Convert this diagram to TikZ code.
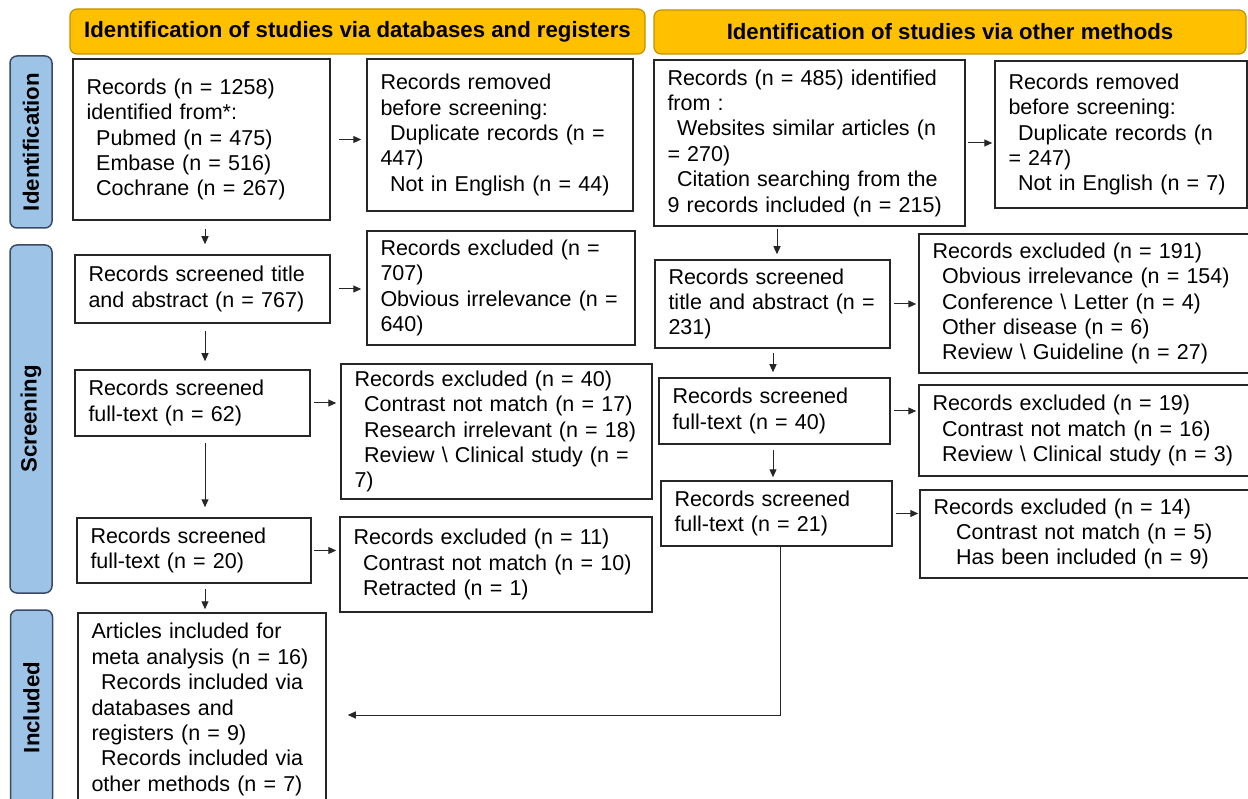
\documentclass[tikz,border=0pt]{standalone}
\usepackage{fontspec}
\setmainfont{Liberation Sans}
\usetikzlibrary{arrows.meta,positioning}

\definecolor{hdrfill}{HTML}{FFC000}
\definecolor{hdrline}{HTML}{C29200}
\definecolor{sidefill}{HTML}{9DC3E6}
\definecolor{sideline}{HTML}{3A4A66}

\newcommand\ind{\hspace*{0.45em}}
\newcommand\indd{\hspace*{1.05em}}
\newcommand\boxfont{\fontsize{21.5}{25.4}\selectfont}
\newcommand\hdrfont{\fontsize{22.2}{26}\selectfont\bfseries}

\tikzset{
  box/.style={draw=black!85, line width=1.5pt, align=left, inner xsep=13.5pt,
    inner ysep=3pt, font=\boxfont},
  pbox/.style 2 args={box, text width=#1pt, minimum height=#2pt},
  hdr/.style={draw=hdrline, fill=hdrfill, rounded corners=7pt, line width=1.2pt,
    font=\hdrfont},
  side/.style={draw=sideline, fill=sidefill, rounded corners=7pt, line width=1.5pt,
    rotate=90, minimum height=42pt, font=\hdrfont},
  arr/.style={-{Triangle[length=8pt,width=7pt]}, line width=1pt, draw=black!85},
  gap/.style 2 args={shorten <=#1pt, shorten >=#2pt}
}

\begin{document}
\begin{tikzpicture}[x=1pt,y=-1pt]
  \useasboundingbox (0,0) rectangle (1248,799);

  % --- column headers ---
  \node[hdr, minimum width=575pt, minimum height=45pt] (hdrDb) at (357.5,31.5)
    {Identification of studies via databases and registers};
  \node[hdr, minimum width=592pt, minimum height=44pt] (hdrOt) at (950,32)
    {Identification of studies via other methods};

  % --- stage bars ---
  \node[side, minimum width=172pt] (sideId)  at (31,142)   {Identification};
  \node[side, minimum width=348pt] (sideScr) at (31,419)   {Screening};
  \node[side, minimum width=195pt] (sideInc) at (31.5,707.5) {Included};

  % --- databases and registers ---
  \node[pbox={230}{161}] (recDb) at (201.5,139.5)
    {Records (n = 1258)\\identified from*:\\\ind Pubmed (n = 475)\\\ind Embase (n = 516)\\\ind Cochrane (n = 267)};
  \node[pbox={239}{152}] (remDb) at (500,135)
    {Records removed\\before screening:\\\ind Duplicate records (n =\\447)\\\ind Not in English (n = 44)};
  \node[pbox={228}{68}] (scrDb) at (202.5,289)
    {Records screened title\\and abstract (n = 767)};
  \node[pbox={241}{114}] (excDb) at (501,288)
    {Records excluded (n =\\707)\\Obvious irrelevance (n =\\640)};
  \node[pbox={208}{66}] (ftDb) at (192.5,403)
    {Records screened\\full-text (n = 62)};
  \node[pbox={284}{135}] (exFtDb) at (496.5,431.5)
    {Records excluded (n = 40)\\\ind Contrast not match (n = 17)\\\ind Research irrelevant (n = 18)\\\ind Review \textbackslash{} Clinical study (n =\\7)};
  \node[pbox={207}{65}] (ft2Db) at (194,550.5)
    {Records screened\\full-text (n = 20)};
  \node[pbox={285}{95}] (ex2Db) at (496,564.5)
    {Records excluded (n = 11)\\\ind Contrast not match (n = 10)\\\ind Retracted (n = 1)};
  \node[pbox={221}{193}] (incl) at (202,709.5)
    {Articles included for\\meta analysis (n = 16)\\\ind Records included via\\databases and\\registers (n = 9)\\\ind Records included via\\other methods (n = 7)};

  % --- other methods ---
  \node[pbox={284}{166}] (recOt) at (809.5,143)
    {Records (n = 485) identified\\from :\\\ind Websites similar articles (n\\= 270)\\\ind Citation searching from the\\9 records included (n = 215)};
  \node[pbox={225}{147}] (remOt) at (1121,134.5)
    {Records removed\\before screening:\\\ind Duplicate records (n\\= 247)\\\ind Not in English (n = 7)};
  \node[pbox={208}{88}] (scrOt) at (772.5,304)
    {Records screened\\title and abstract (n =\\231)};
  \node[pbox={306}{139}] (excOt) at (1085.5,303.5)
    {Records excluded (n = 191)\\\ind Obvious irrelevance (n = 154)\\\ind Conference \textbackslash{} Letter (n = 4)\\\ind Other disease (n = 6)\\\ind Review \textbackslash{} Guideline (n = 27)};
  \node[pbox={204}{66}] (ftOt) at (774.5,411)
    {Records screened\\full-text (n = 40)};
  \node[pbox={306}{91}] (exFtOt) at (1085.5,430.5)
    {Records excluded (n = 19)\\\ind Contrast not match (n = 16)\\\ind Review \textbackslash{} Clinical study (n = 3)};
  \node[pbox={204}{65}] (ft2Ot) at (776.5,513.5)
    {Records screened\\full-text (n = 21)};
  \node[pbox={305}{88}] (ex2Ot) at (1086,534)
    {Records excluded (n = 14)\\\indd Contrast not match (n = 5)\\\indd Has been included (n = 9)};

  % --- guide coordinates for the arrows ---
  \coordinate (xl) at (205,0);
  \coordinate (xf) at (777,0);
  \coordinate (xr) at (773,0);
  \coordinate (turn) at (780,715);

  % --- arrows to the right ---
  \draw[arr, gap={8}{5}] (recDb.east) -- (recDb.east -| remDb.west);
  \draw[arr, gap={8}{5}] (scrDb.east) -- (scrDb.east -| excDb.west);
  \draw[arr, gap={3}{4}] (ftDb.east) -- (ftDb.east -| exFtDb.west);
  \draw[arr, gap={2}{3}] (ft2Db.east) -- (ft2Db.east -| ex2Db.west);
  \draw[arr, gap={2}{2}] (recOt.east) -- (recOt.east -| remOt.west);
  \draw[arr, gap={3}{2}] (scrOt.east) -- (scrOt.east -| excOt.west);
  \draw[arr, gap={3}{2}] (ftOt.east) -- (ftOt.east -| exFtOt.west);
  \draw[arr, gap={3}{1}] (ft2Ot.east) -- (ft2Ot.east -| ex2Ot.west);

  % --- arrows down ---
  \draw[arr, gap={8}{10}] (recDb.south -| xl) -- (scrDb.north -| xl);
  \draw[arr, gap={7}{8}]  (scrDb.south -| xl) -- (ftDb.north -| xl);
  \draw[arr, gap={6}{10}] (ftDb.south -| xl) -- (ft2Db.north -| xl);
  \draw[arr, gap={5}{3}]  (ft2Db.south -| xl) -- (incl.north -| xl);
  \draw[arr, gap={2}{5}]  (recOt.south -| xf) -- (scrOt.north -| xf);
  \draw[arr, gap={4}{5}]  (scrOt.south -| xr) -- (ftOt.north -| xr);
  \draw[arr, gap={5}{3}]  (ftOt.south -| xr) -- (ft2Ot.north -| xr);

  % --- other methods join the included box ---
  \draw[arr, shorten >=21pt] (ft2Ot.south -| turn) -- (turn) -- (turn -| incl.east);
\end{tikzpicture}
\end{document}
